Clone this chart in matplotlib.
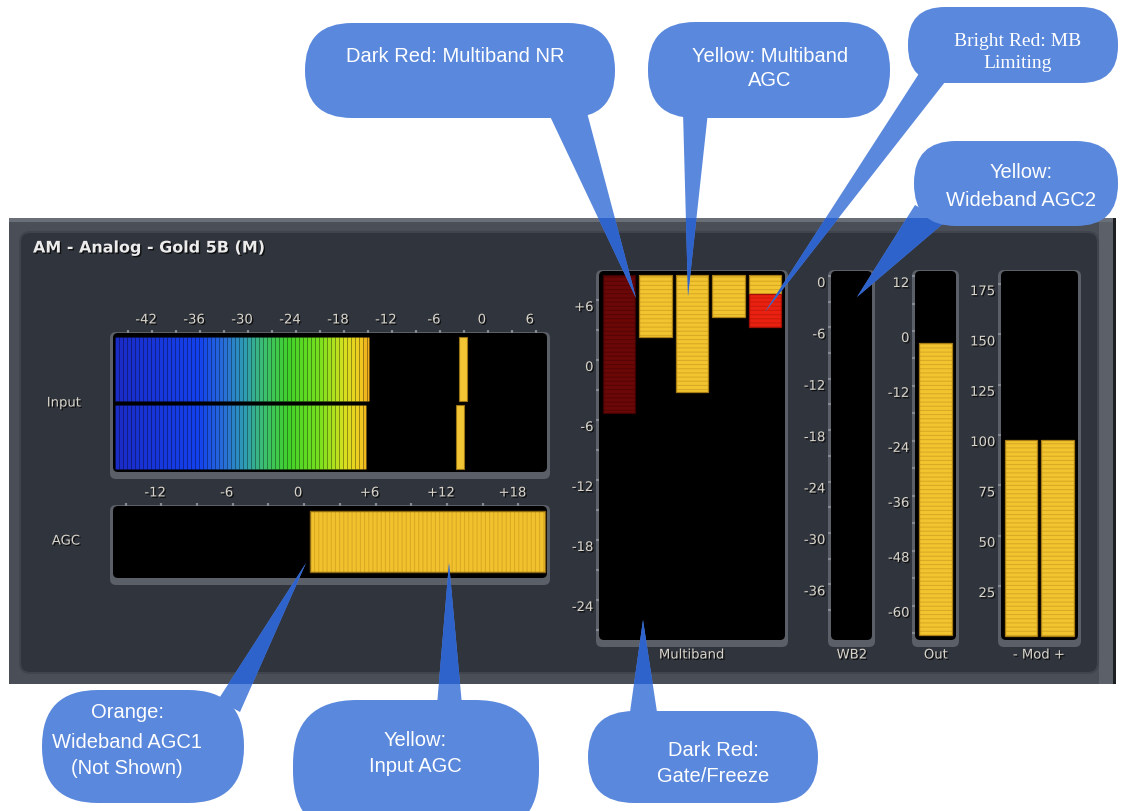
import numpy as np
import matplotlib
matplotlib.use('Agg')
import matplotlib.pyplot as plt
from matplotlib.patches import FancyBboxPatch, Polygon, Rectangle
from matplotlib.colors import LinearSegmentedColormap
from matplotlib.transforms import ScaledTranslation
import matplotlib.patheffects as pe

plt.rcParams['hatch.linewidth'] = 0.8
W, H = 1133, 811

# ---- meter readings ----
input_ticks = [-42, -36, -30, -24, -18, -12, -6, 0, 6]
input_level = [-14.9, -15.3]      # two input bars, dB
input_peak = [-3.1, -3.5]         # peak hold markers, dB

agc_ticks = [-12, -6, 0, 6, 12, 18]
agc_labels = ['-12', '-6', '0', '+6', '+12', '+18']
agc_from, agc_to = 0.5, 20.2

mb_ticks = [6, 0, -6, -12, -18, -24]
mb_labels = ['+6', '0', '-6', '-12', '-18', '-24']
mb_top = 8.5
mb_nr = -5.3                      # dark red, band 1
mb_agc = [2.3, -3.2, 4.3, 6.6]    # yellow, bands 2-5
mb_limit = 3.3                    # bright red, band 5

wb2_ticks = [0, -6, -12, -18, -24, -30, -36]

out_ticks = [12, 0, -12, -24, -36, -48, -60]
out_floor, out_level = -66.5, -2.6

mod_ticks = [175, 150, 125, 100, 75, 50, 25]
mod_level = [97.5, 97.5]

LBL = '#d8d4ca'
shadow = [pe.withSimplePatchShadow(offset=(1, -1), shadow_rgbFace='black', alpha=0.7)]

fig = plt.figure(figsize=(W / 100, H / 100), dpi=100)
fig.patch.set_facecolor('white')


def px_axes(x0, y0, x1, y1):
    return fig.add_axes([x0 / W, 1 - y1 / H, (x1 - x0) / W, (y1 - y0) / H])


bg = px_axes(0, 0, W, H)
bg.set_xlim(0, W)
bg.set_ylim(H, 0)
bg.axis('off')

# panel
bg.add_patch(Rectangle((9, 218), 1107, 466, fc='#4a4e57', ec='none'))
bg.add_patch(Rectangle((9, 218), 1107, 4, fc='#6a6e76', ec='none'))
bg.add_patch(Rectangle((1099, 222), 14, 462, fc='#5c6068', ec='none'))
bg.add_patch(Rectangle((1113, 218), 3, 466, fc='#1e1f22', ec='none'))
bg.add_patch(FancyBboxPatch((20, 232), 1078, 441, boxstyle='round,pad=0,rounding_size=10',
                            fc='#30343c', ec='#40444d', lw=1.5))

bg.text(33, 248, 'AM - Analog - Gold 5B (M)', fontsize=11.5, fontweight='bold', color='#ececec',
        va='center', path_effects=shadow)


def frame(x0, y0, x1, y1):
    bg.add_patch(FancyBboxPatch((x0 - 3, y0 - 1), x1 - x0 + 6, y1 - y0 + 8,
                                boxstyle='round,pad=0,rounding_size=6', fc='#5b5f68', ec='none'))
    bg.add_patch(FancyBboxPatch((x0, y0), x1 - x0, y1 - y0,
                                boxstyle='round,pad=0,rounding_size=5', fc='black', ec='none'))


def meter_axes(x0, y0, x1, y1):
    frame(x0, y0, x1, y1)
    ax = px_axes(x0, y0, x1, y1)
    ax.set_facecolor('none')
    for s in ax.spines.values():
        s.set_visible(False)
    ax.tick_params(which='both', labelcolor=LBL, labelsize=9.5, length=2, width=1.6,
                   pad=2, color='#858991')
    return ax


def shift(labels, dx, dy):
    off = ScaledTranslation(dx / 100, dy / 100, fig.dpi_scale_trans)
    for t in labels:
        t.set_transform(t.get_transform() + off)
        t.set_path_effects(shadow)


def label(x, y, s):
    bg.text(x, y, s, fontsize=9.5, color=LBL, ha='center', va='center', path_effects=shadow)


# ---- Input meter ----
ax = meter_axes(113, 333, 547, 472)
ax.set_xlim(-46.9, 7.4)
ax.set_ylim(1.51, -0.53)
ax.xaxis.tick_top()
ax.set_xticks(input_ticks, [str(t) for t in input_ticks])
ax.set_xticks(np.arange(-45, 8, 3), minor=True)
ax.set_yticks([])
shift(ax.get_xticklabels(), -6, 1)
grad = LinearSegmentedColormap.from_list('inp', [
    (0.0, '#1a2bc6'), (0.33, '#1442ef'), (0.43, '#2870d8'), (0.51, '#2f9eb2'),
    (0.58, '#3cbf72'), (0.68, '#42d22a'), (0.80, '#78e01e'), (0.90, '#d8e01e'),
    (0.96, '#f0cc20'), (1.0, '#f0a01c')])
lo, hi = -46.6, -14.6
for i, lev in enumerate(input_level):
    edges = np.arange(lo, lev, 0.5)
    widths = np.minimum(0.5, lev - edges)
    cols = grad(np.clip((edges + widths / 2 - lo) / (hi - lo), 0, 1))
    ax.barh(i, widths, left=edges, height=0.94, color=cols,
            edgecolor=(0, 0, 0, 0.12), linewidth=0.6)
ax.barh(range(2), 1.0, left=np.array(input_peak) - 0.5, height=0.94,
        color='#f2c534', edgecolor='#9a7414', lw=0.8)
label(64, 403, 'Input')

# ---- AGC meter ----
ax = meter_axes(113, 506, 547, 578)
ax.set_xlim(-16.05, 20.4)
ax.set_ylim(0.6, -0.58)
ax.xaxis.tick_top()
ax.set_xticks(agc_ticks, agc_labels)
ax.set_xticks(np.arange(-15, 21, 3), minor=True)
ax.set_yticks([])
shift(ax.get_xticklabels(), -6, 1)
ax.barh(0, agc_to - agc_from, left=agc_from, height=1.0, color='#f1c22e',
        edgecolor='#dcaa22', hatch='||||', lw=0)
ax.barh(0, agc_to - agc_from, left=agc_from, height=1.0, color='none',
        edgecolor='#8a6612', lw=1)
label(66, 541, 'AGC')

YEL, YEL_E, YEL_H = '#f2c530', '#a87c14', '#d9aa24'


def striped_bar(ax, x, h, bottom, width, fc, hc, ec):
    ax.bar(x, h, bottom=bottom, width=width, color=fc, edgecolor=hc, hatch='----', lw=0)
    ax.bar(x, h, bottom=bottom, width=width, color='none', edgecolor=ec, lw=0.9)


# ---- Multiband ----
ax = meter_axes(599, 271, 785, 640)
ax.set_ylim(-28, 8.9)
ax.set_xlim(-0.55, 4.55)
ax.set_yticks(mb_ticks, mb_labels)
ax.set_yticks(np.arange(-27, 9, 3), minor=True)
ax.set_xticks([])
shift(ax.get_yticklabels(), 0, -6)
striped_bar(ax, 0, mb_top - mb_nr, mb_nr, 0.89, '#6c0707', '#560404', '#3c0202')
striped_bar(ax, [1, 2, 3, 4], mb_top - np.array(mb_agc), mb_agc, 0.89, YEL, YEL_H, YEL_E)
striped_bar(ax, 4, mb_agc[3] - mb_limit, mb_limit, 0.89, '#ea2010', '#cc1a0c', '#a01006')
label(692, 655, 'Multiband')

# ---- WB2 ----
ax = meter_axes(831, 271, 872, 640)
ax.set_ylim(-42.5, 0.58)
ax.set_yticks(wb2_ticks, [str(t) for t in wb2_ticks])
ax.set_yticks(np.arange(-39, 1, 3), minor=True)
ax.set_xticks([])
shift(ax.get_yticklabels(), 0, -6)
label(852, 655, 'WB2')

# ---- Out ----
ax = meter_axes(915, 271, 956, 640)
ax.set_ylim(-67.5, 13.1)
ax.set_xlim(-0.62, 0.62)
ax.set_yticks(out_ticks, [str(t) for t in out_ticks])
ax.set_yticks(np.arange(-66, 13, 6), minor=True)
ax.set_xticks([])
shift(ax.get_yticklabels(), 0, -6)
striped_bar(ax, 0, out_level - out_floor, out_floor, 1.0, YEL, YEL_H, YEL_E)
label(936, 655, 'Out')

# ---- Mod ----
ax = meter_axes(1001, 271, 1078, 640)
ax.set_ylim(-1.8, 181.5)
ax.set_xlim(-0.55, 1.56)
ax.set_yticks(mod_ticks, [str(t) for t in mod_ticks])
ax.set_xticks([])
shift(ax.get_yticklabels(), 0, -6)
striped_bar(ax, [0, 1], mod_level, 0, 0.89, YEL, YEL_H, YEL_E)
label(1039, 655, '- Mod +')

# ---- callouts ----
top = px_axes(0, 0, W, H)
top.set_xlim(0, W)
top.set_ylim(H, 0)
top.axis('off')
BLUE, TAIL_DARK = '#5a88dc', '#2f63cc'
panel_clip = Rectangle((9, 218), 1107, 466, transform=top.transData)
SANS = ['Liberation Sans Narrow', 'Liberation Sans']


def tail(pts):
    top.add_patch(Polygon(pts, closed=True, fc=BLUE, ec='none', zorder=1))
    p = Polygon(pts, closed=True, fc=TAIL_DARK, ec='none', zorder=2)
    top.add_patch(p)
    p.set_clip_path(panel_clip)


def bubble(x0, y0, x1, y1, r, lines, family=SANS, size=14.5):
    top.add_patch(FancyBboxPatch((x0, y0), x1 - x0, y1 - y0,
                                 boxstyle=f'round,pad=0,rounding_size={r}',
                                 fc=BLUE, ec='none', zorder=3))
    for (x, y, s) in lines:
        top.text(x, y, s, ha='center', va='center', color='white', fontsize=size,
                 family=family, zorder=4)


tail([(548, 112), (585, 105), (636, 298)])
tail([(683, 112), (708, 112), (688, 296)])
tail([(920, 72), (945, 82), (765, 312)])
tail([(915, 205), (945, 222), (857, 297)])
tail([(218, 700), (240, 712), (306, 563)])
tail([(437, 705), (462, 705), (449, 563)])
tail([(630, 712), (657, 712), (643, 620)])

bubble(305, 23, 615, 118, 47, [(455, 56, 'Dark Red: Multiband NR')])
bubble(648, 22, 890, 118, 47, [(770, 56, 'Yellow: Multiband'), (770, 81, 'AGC')])
bubble(908, 7, 1118, 83, 37, [(1018, 41, 'Bright Red: MB'), (1018, 64, 'Limiting')],
       family=['Liberation Serif'], size=14)
bubble(914, 141, 1118, 226, 42, [(1021, 173, 'Yellow:'), (1021, 200, 'Wideband AGC2')])
bubble(42, 690, 244, 803, 56, [(127, 713, 'Orange:'), (127, 742, 'Wideband AGC1'),
                               (127, 768, '(Not Shown)')])
bubble(293, 700, 539, 835, 64, [(415, 740, 'Yellow:'), (415, 766, 'Input AGC')])
bubble(588, 711, 818, 803, 46, [(713, 750, 'Dark Red:'), (713, 777, 'Gate/Freeze')])

fig.savefig('out.png', dpi=100, facecolor='white')
